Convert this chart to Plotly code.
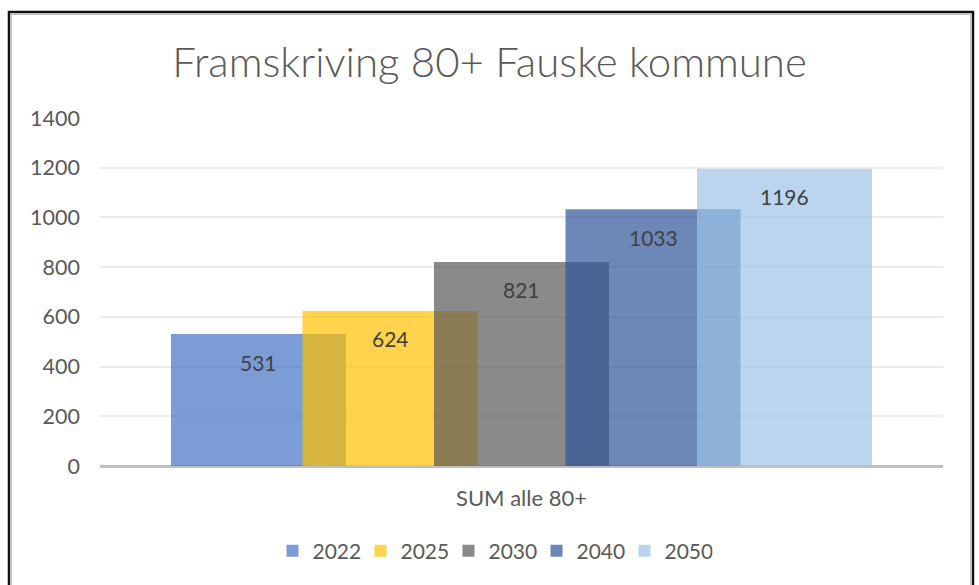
import plotly.graph_objects as go

# ---- data ----
years = ["2022", "2025", "2030", "2040", "2050"]
values = [531, 624, 821, 1033, 1196]
category_label = "SUM alle 80+"
y_ticks = [0, 200, 400, 600, 800, 1000, 1200, 1400]
title_text = "Framskriving 80+ Fauske kommune"

# ---- style ----
colors = [
    "rgba(68,114,196,0.7)",
    "rgba(255,192,0,0.7)",
    "rgba(89,89,89,0.7)",
    "rgba(47,85,151,0.7)",
    "rgba(157,195,230,0.7)",
]
W, H = 979, 585
ML, MR, MT, MB = 100, 36, 118, 119
plot_w = W - ML - MR
plot_h = H - MT - MB

bar_w = 175 / plot_w
step = 131.5 / plot_w
group = step * (len(years) - 1) + bar_w
start = -group / 2

FONT = "Lato"
fig = go.Figure()
annotations = []
for i, (yr, v, c) in enumerate(zip(years, values, colors)):
    off = start + i * step
    fig.add_trace(go.Bar(
        x=[0], y=[v], name=yr, width=bar_w, offset=off,
        marker=dict(color=c, line=dict(width=0)),
        hoverinfo="skip",
    ))
    annotations.append(dict(
        x=off + bar_w / 2, y=v, xref="x", yref="y", text=str(v),
        showarrow=False, yshift=-28,
        font=dict(family=FONT, size=21, color="#404040"),
    ))

def px_x(p):
    return (p - ML) / plot_w

def px_y(p):
    return (H - MB - p) / plot_h

shapes = [
    dict(type="rect", xref="paper", yref="paper",
         x0=px_x(9), x1=px_x(973), y0=px_y(600), y1=px_y(12),
         line=dict(color="#111111", width=2.5), fillcolor="rgba(0,0,0,0)", layer="above"),
    dict(type="rect", xref="paper", yref="paper",
         x0=px_x(11.5), x1=px_x(970.5), y0=px_y(600), y1=px_y(14.5),
         line=dict(color="#BDBDBD", width=1), fillcolor="rgba(0,0,0,0)", layer="above"),
]

fig.update_layout(
    width=W, height=H,
    margin=dict(l=ML, r=MR, t=MT, b=MB, pad=0),
    paper_bgcolor="white", plot_bgcolor="white",
    barmode="overlay",
    title=dict(text=title_text, x=0.5, xref="container", xanchor="center",
               y=1 - 62 / H, yref="container", yanchor="middle",
               font=dict(family=FONT, size=42, color="#595959", weight=300)),
    xaxis=dict(range=[-0.5, 0.5], tickvals=[0], ticktext=[category_label],
               showgrid=False, zeroline=False, showline=False, ticks="",
               ticklabelstandoff=17,
               tickfont=dict(family=FONT, size=22, color="#595959"), fixedrange=True),
    yaxis=dict(range=[0, 1400], tickvals=y_ticks, showgrid=True, gridcolor="#EBEBEB",
               gridwidth=2, zeroline=True, zerolinecolor="#BFBFBF", zerolinewidth=3,
               showline=False, ticks="", ticklabelstandoff=19,
               tickfont=dict(family=FONT, size=21.5, color="#595959"), fixedrange=True),
    legend=dict(orientation="h", x=0.5 + 3 / W, xref="container", xanchor="center",
                y=(H - 551) / H, yref="container", yanchor="middle",
                entrywidth=43, entrywidthmode="pixels",
                font=dict(family=FONT, size=21, color="#595959"),
                traceorder="normal", itemclick=False, itemdoubleclick=False),
    showlegend=True,
    annotations=annotations,
    shapes=shapes,
)

fig.write_html("out.html", config={"displayModeBar": False},
               post_script="document.body.style.margin='0';document.body.style.overflow='hidden';")
